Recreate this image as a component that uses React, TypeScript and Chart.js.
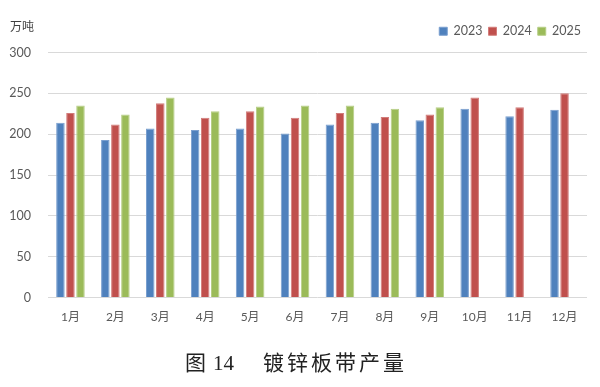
import React, { useEffect, useRef } from "react";
import { Chart, registerables } from "chart.js";

Chart.register(...registerables);

const months = ["1月", "2月", "3月", "4月", "5月", "6月", "7月", "8月", "9月", "10月", "11月", "12月"];
const series2023 = [214, 193, 207, 205, 207, 201, 212, 214, 217, 231, 222, 230];
const series2024 = [226, 212, 238, 220, 228, 220, 226, 221, 224, 245, 233, 250];
const series2025: (number | null)[] = [235, 224, 245, 228, 234, 235, 235, 231, 233, null, null, null];
const yTicks = [0, 50, 100, 150, 200, 250, 300];
const unitLabel = "万吨";
const captionFig = "图";
const captionNum = "14";
const captionTitle = "镀锌板带产量";

const FONT = "Lato, 'Noto Sans CJK SC', sans-serif";

const unitPlugin = {
  id: "unitLabel",
  afterDraw(chart: any) {
    const ctx = chart.ctx;
    ctx.save();
    ctx.font = `12px 'Noto Sans CJK SC', sans-serif`;
    ctx.fillStyle = "#404040";
    ctx.textAlign = "left";
    ctx.textBaseline = "middle";
    ctx.fillText(unitLabel, 10, 26);
    ctx.restore();
  },
};

const legendGapPlugin = {
  id: "legendGap",
  beforeLayout(chart: any) {
    const lg = chart.legend;
    if (lg && !lg._gapPatched) {
      const orig = lg.fit.bind(lg);
      lg.fit = function () {
        orig();
        this.height += 5;
      };
      lg._gapPatched = true;
    }
  },
};

export default function App() {
  const ref = useRef<HTMLCanvasElement | null>(null);

  useEffect(() => {
    if (!ref.current) return;
    const chart = new Chart(ref.current, {
      type: "bar",
      data: {
        labels: months,
        datasets: [
          { label: "2023", data: series2023, backgroundColor: "#4F81BD", borderColor: "#7A9FCF", borderWidth: 1 },
          { label: "2024", data: series2024, backgroundColor: "#C0504D", borderColor: "#D27C7A", borderWidth: 1 },
          { label: "2025", data: series2025, backgroundColor: "#9BBB59", borderColor: "#B6CE86", borderWidth: 1 },
        ],
      },
      options: {
        responsive: false,
        animation: false,
        maintainAspectRatio: false,
        datasets: { bar: { categoryPercentage: 0.67, barPercentage: 0.85 } },
        layout: { padding: { top: 19, left: 9, right: 13, bottom: 51 } },
        plugins: {
          legend: {
            position: "top",
            align: "end",
            labels: {
              boxWidth: 8,
              boxHeight: 8,
              padding: 6,
              color: "#595959",
              font: { family: FONT, size: 12.5 },
            },
          },
          tooltip: { enabled: false },
        },
        scales: {
          x: {
            grid: { display: false, drawTicks: false },
            border: { display: false },
            ticks: { color: "#595959", font: { family: FONT, size: 12 }, padding: 12, maxRotation: 0 },
          },
          y: {
            min: 0,
            max: 300,
            afterBuildTicks(axis: any) {
              axis.ticks = yTicks.map((v) => ({ value: v }));
            },
            afterFit(axis: any) {
              axis.width = 39;
            },
            grid: { color: "#D9D9D9", lineWidth: 1, drawTicks: false },
            border: { display: false },
            ticks: { color: "#595959", font: { family: FONT, size: 12.5 }, padding: 17 },
          },
        },
      },
      plugins: [unitPlugin, legendGapPlugin],
    });
    return () => chart.destroy();
  }, []);

  const serif = "'Liberation Serif', 'Noto Sans CJK SC', serif";
  return (
    <div style={{ position: "absolute", left: 0, top: 0, width: 600, height: 387, background: "#fff" }}>
      <canvas ref={ref} width={600} height={387} style={{ display: "block" }} />
      <div
        style={{
          position: "absolute",
          left: 185,
          top: 349,
          fontFamily: serif,
          fontSize: 21,
          lineHeight: "28px",
          color: "#222",
          whiteSpace: "nowrap",
        }}
      >
        <span>{captionFig}</span>
        <span style={{ marginLeft: 7 }}>{captionNum}</span>
        <span style={{ marginLeft: 29, letterSpacing: 3 }}>{captionTitle}</span>
      </div>
    </div>
  );
}
